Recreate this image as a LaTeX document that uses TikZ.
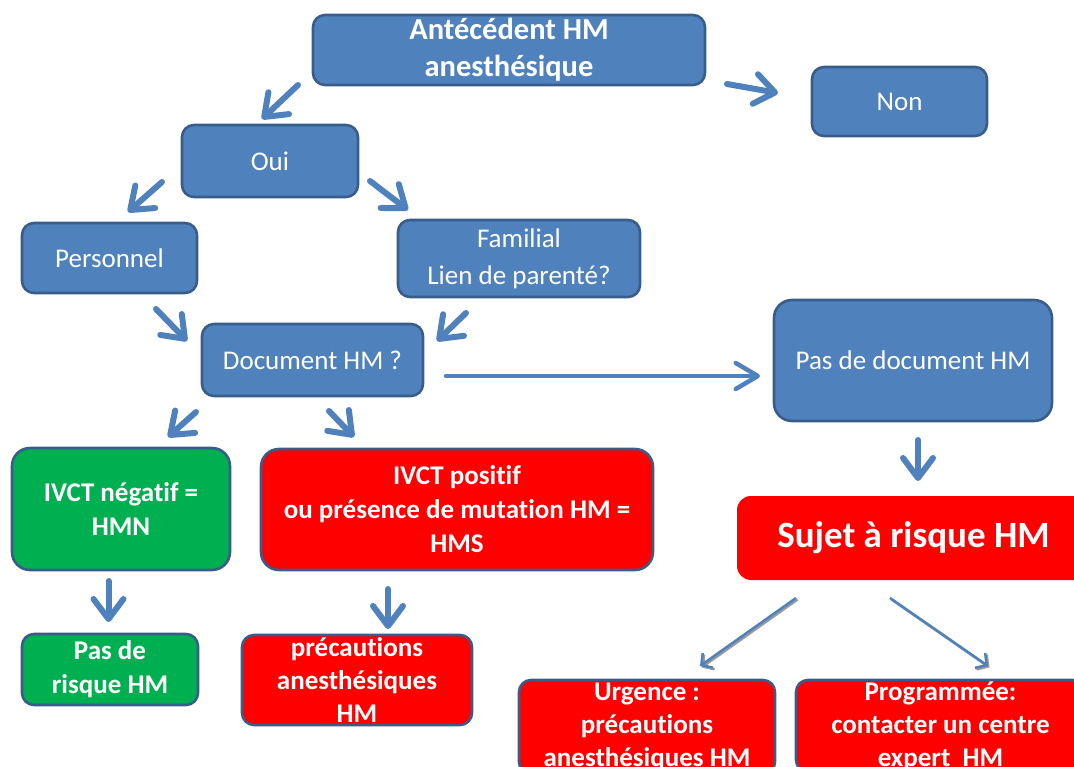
\documentclass[tikz,border=0pt]{standalone}
\usepackage{fontspec}
\setmainfont{Carlito}[RawFeature={-liga;-clig;-calt}]
\usetikzlibrary{arrows.meta}
\definecolor{bfill}{HTML}{4F81BD}
\definecolor{bdraw}{HTML}{385D8A}
\definecolor{rfill}{HTML}{FF0000}
\definecolor{gfill}{HTML}{00B050}
\definecolor{shade}{HTML}{9A9A9A}
\newcommand{\nolig}{\kern0pt }
\begin{document}
\begin{tikzpicture}[x=1pt,y=-1pt,
  box/.style={draw=bdraw, line width=2.6pt, rounded corners=12pt, text=white,
    align=center, inner sep=0pt, font=\fontsize{27}{34}\selectfont},
  bluebox/.style={box, fill=bfill},
  redbox/.style={box, fill=rfill, font=\fontsize{27}{34}\selectfont\bfseries},
  greenbox/.style={box, fill=gfill, font=\fontsize{27}{34}\selectfont\bfseries},
  fatarrow/.style={draw=bfill, line width=6pt, line cap=round,
    -{Straight Barb[length=20pt,width=30pt,round]}},
  longarrow/.style={draw=bfill, line width=4.5pt, line cap=round,
    -{Straight Barb[length=22pt,width=26pt,round]}},
  thinarrow/.style={draw=bfill, line width=2.5pt,
    -{Straight Barb[length=8pt,width=18pt]}},
  thinshadow/.style={draw=shade, line width=2.5pt,
    -{Straight Barb[length=8pt,width=18pt]}}
]
\useasboundingbox (0,0) rectangle (1074,767);
\clip (0,0) rectangle (1074,767);

% nodes
\node[bluebox, minimum width=392pt, minimum height=70pt,
  font=\fontsize{30.5}{37}\selectfont\bfseries] (ante) at (509,50) {Antécédent HM\\anesthésique};
\node[bluebox, minimum width=175pt, minimum height=69pt] (non) at (899.5,101.5) {Non};
\node[bluebox, minimum width=176pt, minimum height=72pt] (oui) at (270,161) {Oui};
\node[bluebox, minimum width=175pt, minimum height=70pt] (pers) at (109.5,258) {Personnel};
\node[bluebox, minimum width=242pt, minimum height=77pt,
  font=\fontsize{27}{37}\selectfont] (fam) at (519,258.5) {Familial\\Lien de parenté?};
\node[bluebox, minimum width=221pt, minimum height=72pt] (doc) at (312.5,360) {Document HM ?};
\node[bluebox, minimum width=278pt, minimum height=121pt, rounded corners=18pt] (pasdoc) at (913,360.5) {Pas de document HM};
\node[greenbox, minimum width=218pt, minimum height=122pt, rounded corners=18pt] (neg) at (121,509) {IVCT négat\nolig if =\\HMN};
\node[redbox, minimum width=392pt, minimum height=121pt, rounded corners=18pt] (pos) at (457,509.5) {IVCT posit\nolig if\\ou présence de mutat\nolig ion HM =\\HMS};
\node[redbox, draw=none, minimum width=353pt, minimum height=84pt, rounded corners=14pt,
  font=\fontsize{37}{44}\selectfont\bfseries] (sujet) at (913.5,538) {\raisebox{3pt}{Sujet à risque HM}};
\node[greenbox, minimum width=176pt, minimum height=71pt] (pasrisk) at (110,669.5) {Pas de\\risque HM};
\node[redbox, minimum width=230pt, minimum height=90pt, font=\fontsize{27}{33}\selectfont\bfseries] (prec) at (357,680) {précaut\nolig ions\\anesthésiques\\HM};
\node[redbox, minimum width=256pt, minimum height=94pt, font=\fontsize{27}{33}\selectfont\bfseries] (urg) at (647,727) {Urgence :\\précaut\nolig ions\\anesthésiques HM};
\node[redbox, minimum width=289pt, minimum height=92pt, font=\fontsize{27}{33}\selectfont\bfseries] (prog) at (940.5,726) {Programmée:\\contacter un centre\\expert\ \ HM};

% arrow end points
\coordinate (a1s) at (298,85);   \coordinate (a1e) at (262,119);
\coordinate (a2s) at (727,84);   \coordinate (a2e) at (778,93);
\coordinate (a3s) at (162,182);  \coordinate (a3e) at (128,212);
\coordinate (a4s) at (370,181);  \coordinate (a4e) at (408,210);
\coordinate (a5s) at (156,309);  \coordinate (a5e) at (187,341);
\coordinate (a6s) at (466,313);  \coordinate (a6e) at (437,341);
\coordinate (a7s) at (196,412);  \coordinate (a7e) at (168,437);
\coordinate (a8s) at (329,411);  \coordinate (a8e) at (354,437);
\coordinate (a9s) at (446,376);  \coordinate (a9e) at (760,376);
\coordinate (a10s) at (918,440); \coordinate (a10e) at (918,481);
\coordinate (a11s) at (108.5,581); \coordinate (a11e) at (108.5,622);
\coordinate (a12s) at (388,589); \coordinate (a12e) at (388,629);
\coordinate (a13s) at (796,598); \coordinate (a13e) at (700,666);
\coordinate (a14s) at (890,598); \coordinate (a14e) at (988,666);

% connectors
\draw[fatarrow] (a1s) -- (a1e);
\draw[fatarrow] (a2s) -- (a2e);
\draw[fatarrow] (a3s) -- (a3e);
\draw[fatarrow] (a4s) -- (a4e);
\draw[fatarrow] (a5s) -- (a5e);
\draw[fatarrow] (a6s) -- (a6e);
\draw[fatarrow] (a7s) -- (a7e);
\draw[fatarrow] (a8s) -- (a8e);
\draw[longarrow] (a9s) -- (a9e);
\draw[fatarrow] (a10s) -- (a10e);
\draw[fatarrow] (a11s) -- (a11e);
\draw[fatarrow] (a12s) -- (a12e);
\draw[thinshadow] ([shift={(1.5,1.5)}]a13s) -- ([shift={(1.5,1.5)}]a13e);
\draw[thinshadow] ([shift={(1.5,1.5)}]a14s) -- ([shift={(1.5,1.5)}]a14e);
\draw[thinarrow] (a13s) -- (a13e);
\draw[thinarrow] (a14s) -- (a14e);
\end{tikzpicture}
\end{document}
